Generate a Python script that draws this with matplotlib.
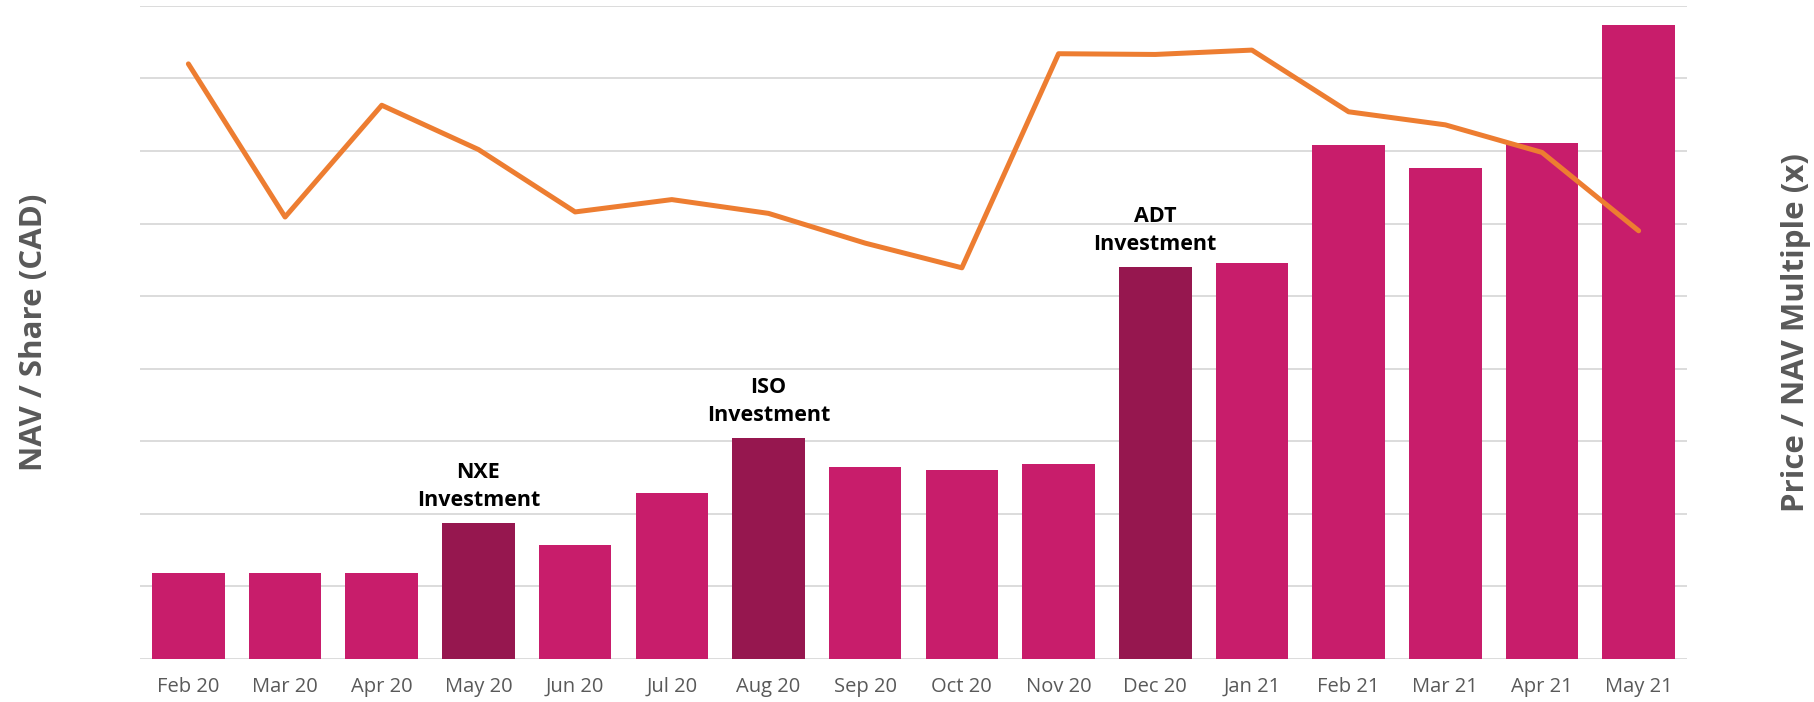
import matplotlib.pyplot as plt
import numpy as np

# month labels
months = ["Feb 20", "Mar 20", "Apr 20", "May 20", "Jun 20", "Jul 20", "Aug 20", "Sep 20",
          "Oct 20", "Nov 20", "Dec 20", "Jan 21", "Feb 21", "Mar 21", "Apr 21", "May 21"]
# NAV / share (bars)
nav = [1.18, 1.19, 1.18, 1.87, 1.57, 2.29, 3.04, 2.65, 2.60, 2.68, 5.40, 5.45, 7.08, 6.77, 7.11, 8.74]
# price / NAV multiple (line)
multiple = [8.20, 6.09, 7.63, 7.02, 6.16, 6.33, 6.14, 5.73, 5.39, 8.34, 8.33, 8.39, 7.54, 7.36, 6.98, 5.90]
# investment call-outs
investments = {"May 20": "NXE\nInvestment", "Aug 20": "ISO\nInvestment", "Dec 20": "ADT\nInvestment"}

PINK = "#C81D6B"
DARK = "#96174F"
ORANGE = "#ED7D31"
GRID = "#D9D9D9"
GREY = "#595959"

plt.rcParams['font.family'] = ['Open Sans', 'DejaVu Sans']

fig = plt.figure(figsize=(18.14, 7.02), dpi=100)
ax = fig.add_axes([0.0772, 0.0613, 0.8528, 0.9304])

x = np.arange(len(months))
colors = [DARK if m in investments else PINK for m in months]
bars = ax.bar(x, nav, width=0.75, color=colors, zorder=2)

ax.set_xlim(-0.5, len(months) - 0.5)
ax.set_ylim(0, 9)
ax.set_yticks(np.arange(0, 10))
ax.set_yticklabels([])
ax.tick_params(axis='y', length=0)
ax.grid(axis='y', color=GRID, lw=1.3, zorder=0)
ax.set_axisbelow(True)
for s in ax.spines.values():
    s.set_visible(False)

ax.set_xticks(x)
ax.set_xticklabels(months, fontsize=14.5, color=GREY)
ax.tick_params(axis='x', length=0, pad=13)

for i, m in enumerate(months):
    if m in investments:
        ax.annotate(investments[m], (x[i], nav[i]), xytext=(0, 9), textcoords='offset points',
                    ha='center', va='bottom', fontsize=15.5, fontweight='bold', color='black',
                    linespacing=1.4)

ax.set_ylabel("NAV / Share (CAD)", fontsize=22.5, fontweight='bold', color=GREY)
ax.yaxis.set_label_coords(-0.0590, 0.5)

ax2 = ax.twinx()
ax2.plot(x, multiple, color=ORANGE, lw=3.6, solid_capstyle='round', solid_joinstyle='round', zorder=3)
ax2.set_ylim(0, 9)
ax2.set_yticks([])
for s in ax2.spines.values():
    s.set_visible(False)
ax2.set_ylabel("Price / NAV Multiple (x)", fontsize=22.5, fontweight='bold', color=GREY, rotation=90)
ax2.yaxis.set_label_coords(1.0610, 0.5)

fig.savefig("out.png", dpi=100)
